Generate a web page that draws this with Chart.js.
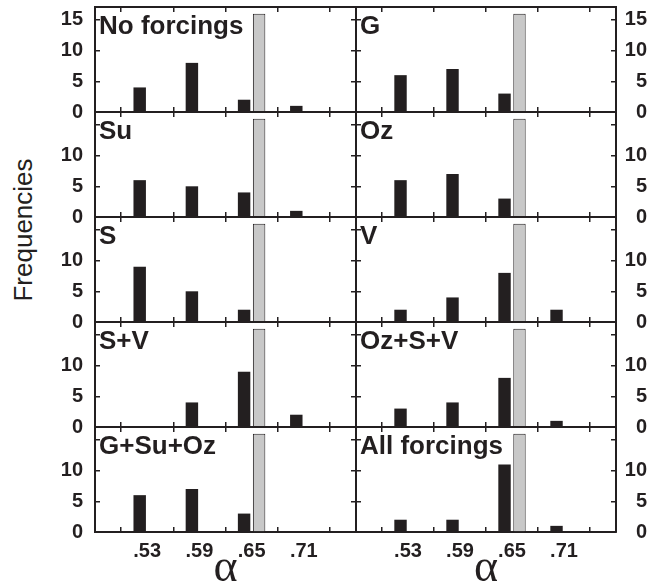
<!DOCTYPE html>
<html>
<head>
<meta charset="utf-8">
<script src="https://cdn.jsdelivr.net/npm/chart.js@4.4.1/dist/chart.umd.min.js"></script>
<style>
  html, body { margin: 0; padding: 0; background: #fff; }
  #wrap { position: relative; width: 664px; height: 587px; overflow: hidden; }
  .panel { position: absolute; }
  #ylab {
    position: absolute; left: 23px; top: 230px;
    transform: translate(-50%, -50%) rotate(-90deg);
    font: 26px 'Liberation Sans', Arial, sans-serif; color: #231f20;
    white-space: nowrap; line-height: 1;
  }
</style>
</head>
<body>
<div id="wrap"><div id="ylab">Frequencies</div></div>
<script>
// alpha bins (the empty ends are the half bins at the edges)
const alphaBins = ['', '.53', '.59', '.65', '.71', ''];
const yTicks = [0, 5, 10, 15];
const yMax = 17.1;

// panel names: left column, right column
const leftNames = ['No forcings', 'Su', 'S', 'S+V', 'G+Su+Oz'];
const rightNames = ['G', 'Oz', 'V', 'Oz+S+V', 'All forcings'];

// frequencies at .53 .59 .65 .71
const noForcings = [4, 8, 2, 1];
const su = [6, 5, 4, 1];
const s = [9, 5, 2, 0];
const sv = [0, 4, 9, 2];
const gSuOz = [6, 7, 3, 0];
const g = [6, 7, 3, 0];
const oz = [6, 7, 3, 0];
const v = [2, 4, 8, 2];
const ozSV = [3, 4, 8, 1];
const allForcings = [2, 2, 11, 1];

// grey bar in the .65 bin, same in every panel
const observed = [null, null, null, 16, null, null];

const leftValues = [noForcings, su, s, sv, gSuOz];
const rightValues = [g, oz, v, ozSV, allForcings];

const ink = '#231f20';
const tickFont = { family: 'Liberation Sans', size: 20, weight: 'bold' };

// panel name in the top left corner of the plot
const panelTitle = {
  id: 'panelTitle',
  afterDraw(chart, args, opts) {
    const { ctx, chartArea } = chart;
    ctx.save();
    ctx.font = 'bold 26px "Liberation Sans"';
    ctx.fillStyle = ink;
    ctx.textBaseline = 'alphabetic';
    ctx.fillText(opts.text, chartArea.left + 4, chartArea.top + 27);
    ctx.restore();
  }
};

// fixed axis sizes (and no label overflow padding) so that all panels line up
const fixSize = size => scale => {
  if (scale.isHorizontal()) scale.height = size;
  else scale.width = size;
  scale.paddingTop = 0;
  scale.paddingBottom = 0;
  scale.paddingLeft = 0;
  scale.paddingRight = 0;
};

function tickGrid(offset) {
  return { drawOnChartArea: false, drawTicks: true, tickLength: -5, color: ink, lineWidth: 1.5, offset: offset };
}
const frame = { display: true, color: ink, width: 2 };

function makePanel(col, row, name, values) {
  const isLeft = col === 0;
  const isBottom = row === 4;
  const plotTop = 7 + 105 * row;
  const left = isLeft ? 0 : 352;
  const width = isLeft ? 360 : 312;
  const top = plotTop - 12;
  const height = isBottom ? 587 - top : 129;

  const div = document.createElement('div');
  div.className = 'panel';
  div.style.left = left + 'px';
  div.style.top = top + 'px';
  const canvas = document.createElement('canvas');
  canvas.width = width;
  canvas.height = height;
  div.appendChild(canvas);
  document.getElementById('wrap').appendChild(div);

  const yLabel = val => (val === 15 && row > 0) ? '' : String(val);
  const setTicks = sc => { sc.ticks = yTicks.map(t => ({ value: t })); };

  new Chart(canvas, {
    type: 'bar',
    data: {
      labels: alphaBins,
      datasets: [
        {
          data: [null, ...values, null],
          backgroundColor: ink,
          borderWidth: 0,
          categoryPercentage: 0.575,
          barPercentage: 0.83
        },
        {
          data: observed,
          backgroundColor: '#c8c8c8',
          borderColor: ink,
          borderWidth: 1,
          categoryPercentage: 0.575,
          barPercentage: 0.83
        }
      ]
    },
    options: {
      responsive: false,
      animation: false,
      devicePixelRatio: 1,
      layout: {
        padding: {
          top: 12,
          bottom: isBottom ? 0 : 12,
          left: isLeft ? 0 : 4,
          right: isLeft ? 4 : 17
        }
      },
      plugins: {
        legend: { display: false },
        tooltip: { enabled: false },
        panelTitle: { text: name }
      },
      scales: {
        x: {
          type: 'category',
          position: 'bottom',
          offset: false,
          grid: tickGrid(true),
          border: frame,
          ticks: { display: isBottom, font: tickFont, color: ink, padding: 12, maxRotation: 0, autoSkip: false },
          title: {
            display: isBottom, text: 'α', color: ink, padding: 0,
            font: { family: 'Liberation Serif', size: 46, lineHeight: 0.8 }
          },
          afterFit: fixSize(isBottom ? 55 : 0)
        },
        x2: {
          type: 'category',
          position: 'top',
          offset: false,
          grid: tickGrid(true),
          border: frame,
          ticks: { display: false },
          afterFit: fixSize(0)
        },
        y: {
          type: 'linear',
          position: 'left',
          min: 0,
          max: yMax,
          afterBuildTicks: setTicks,
          grid: tickGrid(false),
          border: frame,
          ticks: { display: isLeft, callback: yLabel, font: tickFont, color: ink, padding: 17 },
          afterFit: fixSize(isLeft ? 95 : 0)
        },
        y2: {
          type: 'linear',
          position: 'right',
          min: 0,
          max: yMax,
          afterBuildTicks: setTicks,
          grid: tickGrid(false),
          border: frame,
          ticks: { display: !isLeft, callback: yLabel, font: tickFont, color: ink, padding: 10, crossAlign: 'far' },
          afterFit: fixSize(isLeft ? 0 : 31)
        }
      }
    },
    plugins: [panelTitle]
  });
}

for (let r = 0; r < 5; r++) {
  makePanel(0, r, leftNames[r], leftValues[r]);
  makePanel(1, r, rightNames[r], rightValues[r]);
}
</script>
</body>
</html>
